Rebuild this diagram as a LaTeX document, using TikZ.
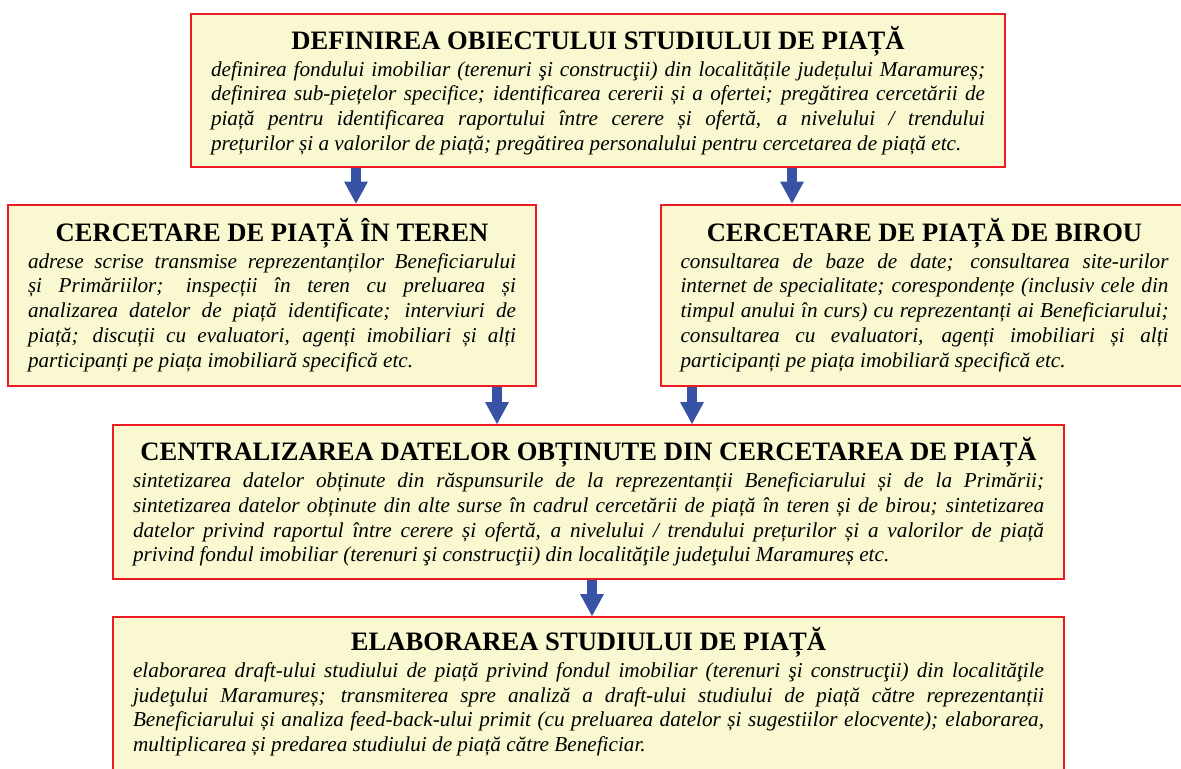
\documentclass[tikz,border=0pt]{standalone}
\usepackage{fontspec}
\setmainfont{Liberation Serif}
\usepackage{xcolor}
\usetikzlibrary{arrows.meta}
\definecolor{boxfill}{RGB}{250,248,208}
\definecolor{boxred}{RGB}{237,28,36}
\definecolor{arrowblue}{RGB}{57,83,164}
\newcommand{\stagehead}[1]{{\centering\upshape\bfseries\fontsize{13.3}{16}\selectfont #1\par}\vspace{1pt}}

\begin{document}
\begin{tikzpicture}[x=0.5pt, y=-0.5pt,
  stagebox/.style={rectangle, draw=boxred, fill=boxfill, line width=1pt, inner xsep=10pt, inner ysep=0pt, align=justify, font=\fontsize{10.6}{12.35}\selectfont\itshape},
  flowarrow/.style={draw=arrowblue, line width=5pt, -{Triangle[length=11pt, width=12pt, line width=0pt, fill=arrowblue]}}]
\useasboundingbox (0,0) rectangle (1181,768);
\clip (0,0) rectangle (1181,768);
% Stages
\node[stagebox, text width=387pt, minimum height=76.5pt] (define) at (598,90.5) {\stagehead{DEFINIREA OBIECTULUI STUDIULUI DE PIAȚĂ}
definirea fondului imobiliar (terenuri şi construcţii) din localitățile județului Maramureș;\linebreak
definirea sub-piețelor specifice; identificarea cererii și a ofertei; pregătirea cercetării de\linebreak
piață pentru identificarea raportului între cerere și ofertă, a nivelului / trendului\linebreak
prețurilor și a valorilor de piață; pregătirea personalului pentru cercetarea de piață etc.};
\node[stagebox, text width=244pt, minimum height=90.5pt] (field) at (272,295) {\stagehead{CERCETARE DE PIAȚĂ ÎN TEREN}
adrese scrise transmise reprezentanților Beneficiarului\linebreak
și Primăriilor; inspecții în teren cu preluarea și\linebreak
analizarea datelor de piață identificate; interviuri de\linebreak
piață; discuții cu evaluatori, agenți imobiliari și alți\linebreak
participanți pe piața imobiliară specifică etc.};
\node[stagebox, text width=244pt, minimum height=90.5pt] (office) at (924.5,295) {\stagehead{CERCETARE DE PIAȚĂ DE BIROU}
consultarea de baze de date; consultarea site-urilor\linebreak
internet de specialitate; corespondențe (inclusiv cele din\linebreak
timpul anului în curs) cu reprezentanți ai Beneficiarului;\linebreak
consultarea cu evaluatori, agenți imobiliari și alți\linebreak
participanți pe piața imobiliară specifică etc.};
\node[stagebox, text width=455.5pt, minimum height=77pt] (central) at (588.5,502) {\stagehead{CENTRALIZAREA DATELOR OBȚINUTE DIN CERCETAREA DE PIAȚĂ}
sintetizarea datelor obținute din răspunsurile de la reprezentanții Beneficiarului și de la Primării;\linebreak
sintetizarea datelor obținute din alte surse în cadrul cercetării de piață în teren și de birou; sintetizarea\linebreak
datelor privind raportul între cerere și ofertă, a nivelului / trendului prețurilor și a valorilor de piață\linebreak
privind fondul imobiliar (terenuri şi construcţii) din localităţile judeţului Maramureș etc.};
\node[stagebox, text width=455.5pt, minimum height=80pt] (draft) at (588.5,697) {\stagehead{ELABORAREA STUDIULUI DE PIAȚĂ}
elaborarea draft-ului studiului de piață privind fondul imobiliar (terenuri şi construcţii) din localităţile\linebreak
judeţului Maramureș; transmiterea spre analiză a draft-ului studiului de piață către reprezentanții\linebreak
Beneficiarului și analiza feed-back-ului primit (cu preluarea datelor și sugestiilor elocvente); elaborarea,\linebreak
multiplicarea și predarea studiului de piață către Beneficiar.\par\vspace{-5pt}\mbox{}};
% Arrow positions
\coordinate (ax1) at (356,0);
\coordinate (ax2) at (792,0);
\coordinate (ax3) at (497,0);
\coordinate (ax4) at (692,0);
\coordinate (ax5) at (592,0);
\draw[flowarrow] (define.south -| ax1) -- (field.north -| ax1);
\draw[flowarrow] (define.south -| ax2) -- (office.north -| ax2);
\draw[flowarrow] (field.south -| ax3) -- (central.north -| ax3);
\draw[flowarrow] (office.south -| ax4) -- (central.north -| ax4);
\draw[flowarrow] (central.south -| ax5) -- (draft.north -| ax5);
\end{tikzpicture}
\end{document}
